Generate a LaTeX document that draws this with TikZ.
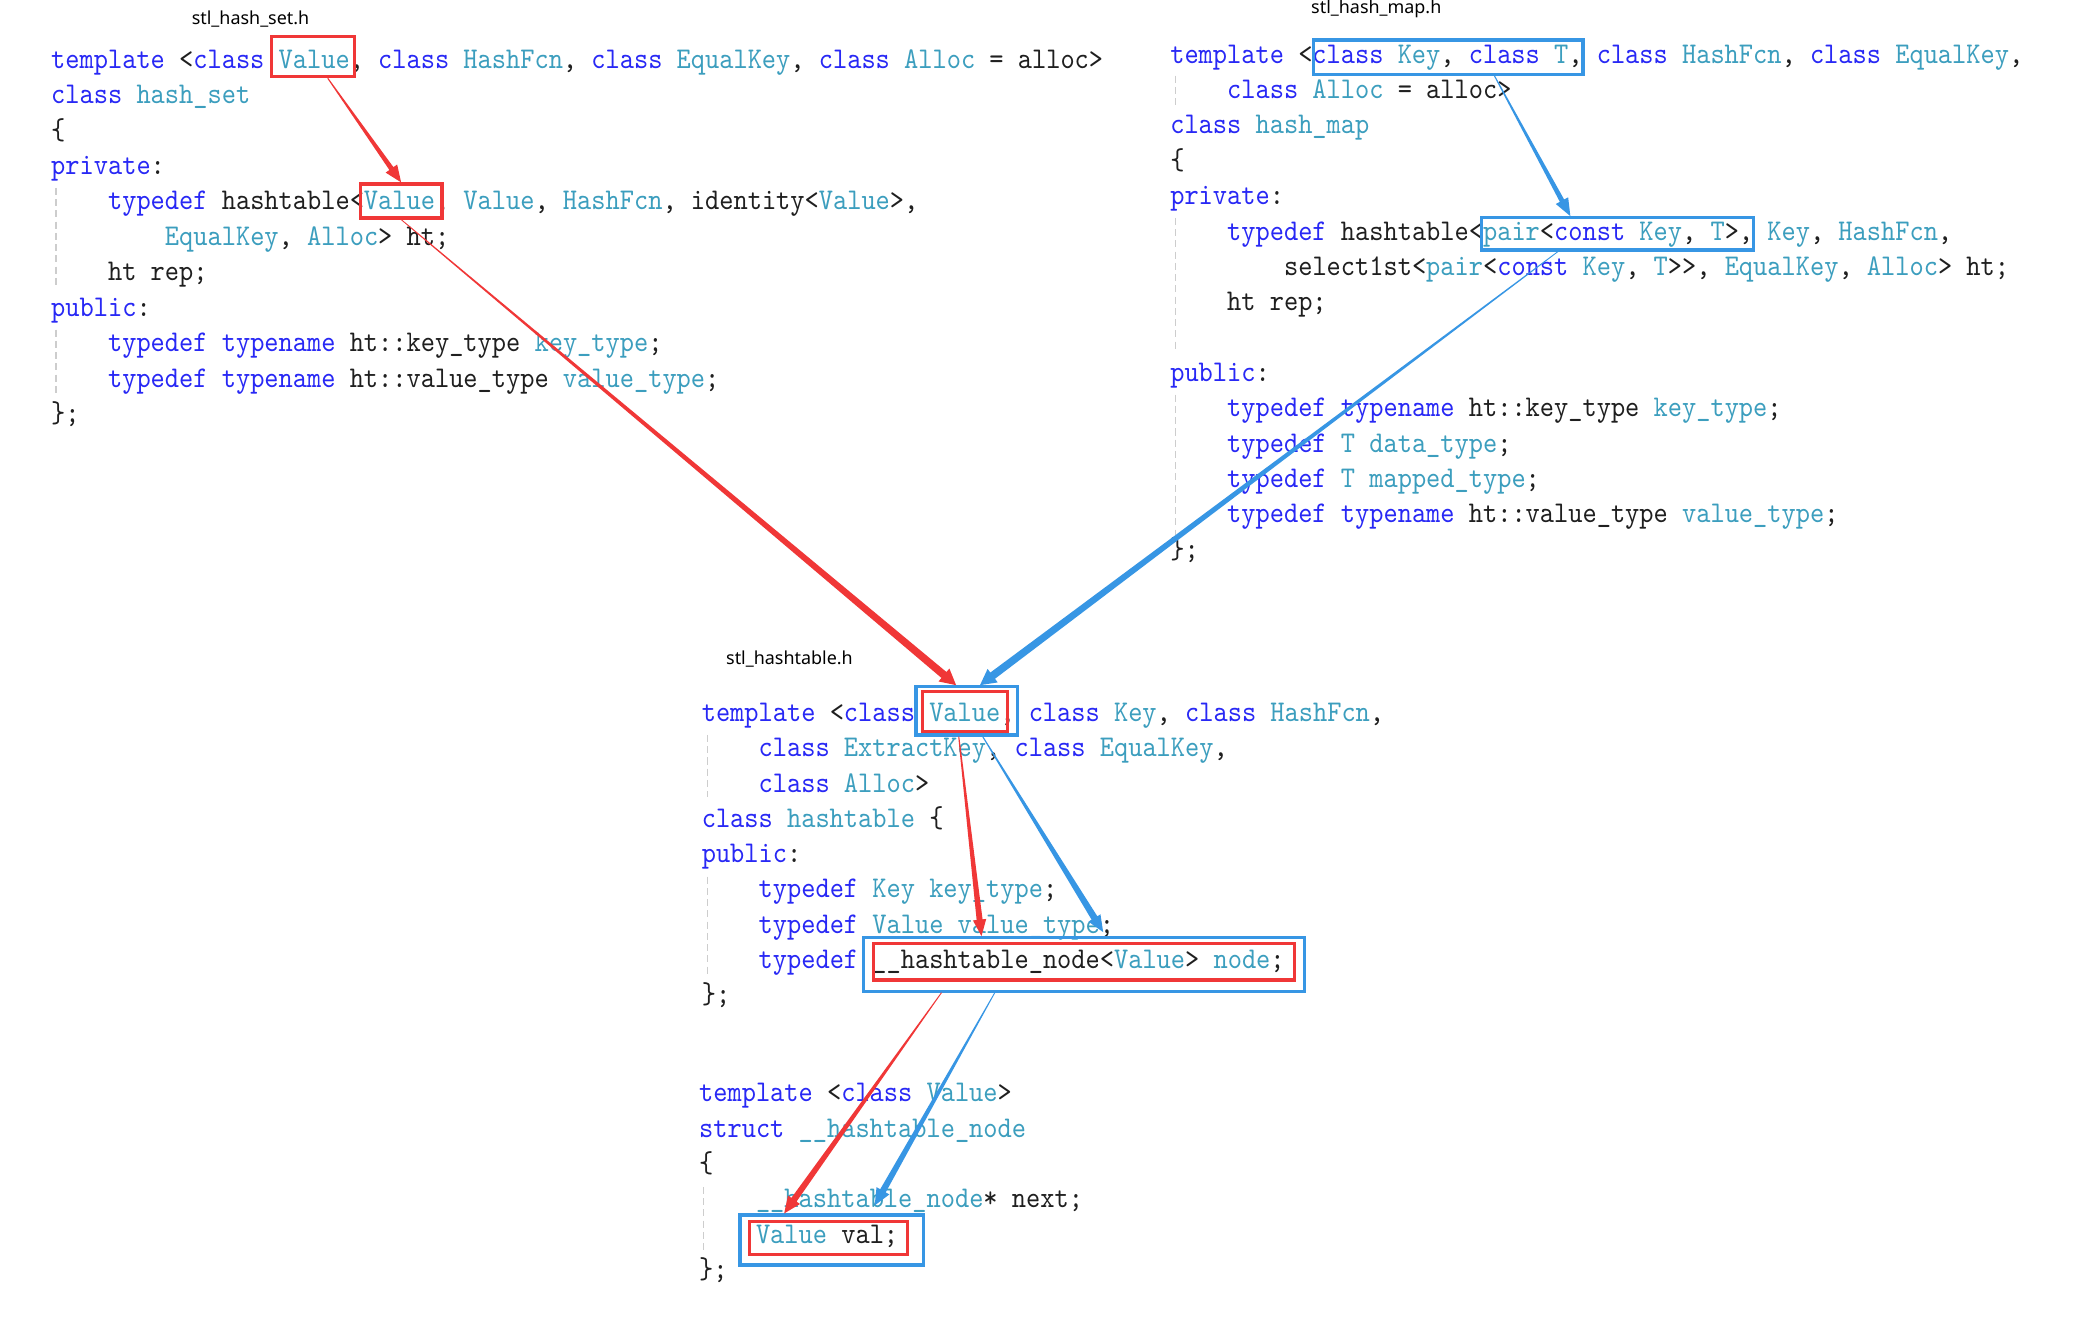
\documentclass[tikz,border=0pt]{standalone}
\usepackage{fontspec}
\newfontfamily\titlefont{Noto Sans}
\newfontfamily\codefont{lmmono10-regular.otf}[FakeStretch=0.9]
\usetikzlibrary{calc,fit}

\definecolor{kwblue}{RGB}{40,40,245}
\definecolor{tyteal}{RGB}{60,158,190}
\definecolor{mkred}{RGB}{240,55,55}
\definecolor{mkblue}{RGB}{55,150,228}
\definecolor{guidegray}{RGB}{205,205,205}

\newcommand{\kw}[1]{\textcolor{kwblue}{#1}}
\newcommand{\ty}[1]{\textcolor{tyteal}{#1}}

% tapered marker arrow: colour, start, tip, start half-width, shaft half-width, head half-width, head length
\newcommand{\taperarrow}[7]{%
  \path (#2) coordinate (ta-s) (#3) coordinate (ta-t);
  \path ($(ta-t)!#7!(ta-s)$) coordinate (ta-h);
  \fill[#1] ($(ta-s)!#4!90:(ta-t)$) -- ($(ta-h)!#5!-90:(ta-s)$) -- ($(ta-h)!#6!-90:(ta-s)$)
    -- (ta-t) -- ($(ta-h)!#6!90:(ta-s)$) -- ($(ta-h)!#5!90:(ta-s)$) -- ($(ta-s)!#4!-90:(ta-t)$) -- cycle;}

\begin{document}
\begin{tikzpicture}[
    x=0.01329cm, y=-0.01329cm,
    code/.style={anchor=base west, inner sep=0pt, text=black!88,
        font=\fontsize{8.56}{10}\selectfont\codefont\frenchspacing},
    fname/.style={inner sep=0pt, font=\fontsize{5.1}{6}\selectfont\titlefont},
    redbox/.style={draw=mkred, line width=0.9pt, inner sep=0pt},
    bluebox/.style={draw=mkblue, line width=0.9pt, inner sep=0pt},
    guide/.style={draw=guidegray, line width=0.45pt, dash pattern=on 2pt off 1.2pt},
]
\fill[white] (0,0) rectangle (1568,996);
\useasboundingbox (0,0) rectangle (1568,996);

% ---- stl_hash_set.h ------------------------------------------------
\node[fname] (fset) at (188.5,14) {stl\_hash\_set.h};
\node[code] (s0) at (38,51.4) {\kw{template} <\kw{class} \ty{Value}, \kw{class} \ty{HashFcn}, \kw{class} \ty{EqualKey}, \kw{class} \ty{Alloc} = alloc>};
\node[code] (s1) at (38,78.1) {\kw{class} \ty{hash\_set}};
\node[code] (s2) at (38,104.7) {\{};
\node[code] (s3) at (38,131.4) {\kw{private}:};
\node[code] (s4) at (80.8,158.0) {\kw{typedef} hashtable<\ty{Value}, \ty{Value}, \ty{HashFcn}, identity<\ty{Value}>,};
\node[code] (s5) at (123.6,184.7) {\ty{EqualKey}, \ty{Alloc}> ht;};
\node[code] (s6) at (80.8,211.3) {ht rep;};
\node[code] (s7) at (38,238.0) {\kw{public}:};
\node[code] (s8) at (80.8,264.6) {\kw{typedef} \kw{typename} ht::key\_type \ty{key\_type};};
\node[code] (s9) at (80.8,291.3) {\kw{typedef} \kw{typename} ht::value\_type \ty{value\_type};};
\node[code] (s10) at (38,317.9) {\};};
\draw[guide] (42,141.4) -- (42,215.7);
\draw[guide] (42,248) -- (42,296);

% ---- stl_hash_map.h ------------------------------------------------
\node[fname] (fmap) at (1035.5,7) {stl\_hash\_map.h};
\node[code] (m0) at (880,47.6) {\kw{template} <\kw{class} \ty{Key}, \kw{class} \ty{T}, \kw{class} \ty{HashFcn}, \kw{class} \ty{EqualKey},};
\node[code] (m1) at (922.8,74.2) {\kw{class} \ty{Alloc} = alloc>};
\node[code] (m2) at (880,100.8) {\kw{class} \ty{hash\_map}};
\node[code] (m3) at (880,127.4) {\{};
\node[code] (m4) at (880,154.0) {\kw{private}:};
\node[code] (m5) at (922.8,180.6) {\kw{typedef} hashtable<\ty{pair}<\kw{const} \ty{Key}, \ty{T}>, \ty{Key}, \ty{HashFcn},};
\node[code] (m6) at (965.6,207.2) {select1st<\ty{pair}<\kw{const} \ty{Key}, \ty{T}>{}>, \ty{EqualKey}, \ty{Alloc}> ht;};
\node[code] (m7) at (922.8,233.8) {ht rep;};
\node[code] (m9) at (880,287.0) {\kw{public}:};
\node[code] (m10) at (922.8,313.6) {\kw{typedef} \kw{typename} ht::key\_type \ty{key\_type};};
\node[code] (m11) at (922.8,340.2) {\kw{typedef} \ty{T} \ty{data\_type};};
\node[code] (m12) at (922.8,366.8) {\kw{typedef} \ty{T} \ty{mapped\_type};};
\node[code] (m13) at (922.8,393.4) {\kw{typedef} \kw{typename} ht::value\_type \ty{value\_type};};
\node[code] (m14) at (880,420.0) {\};};
\draw[guide] (884.5,56.9) -- (884.5,80.5);
\draw[guide] (884.5,164) -- (884.5,265);
\draw[guide] (884.5,297) -- (884.5,402.6);

% ---- stl_hashtable.h -----------------------------------------------
\node[fname] (fht) at (594,496) {stl\_hashtable.h};
\node[code] (h0) at (527.5,543) {\kw{template} <\kw{class} \ty{Value}, \kw{class} \ty{Key}, \kw{class} \ty{HashFcn},};
\node[code] (h1) at (570.3,569.5) {\kw{class} \ty{ExtractKey}, \kw{class} \ty{EqualKey},};
\node[code] (h2) at (570.3,596) {\kw{class} \ty{Alloc}>};
\node[code] (h3) at (527.5,622.5) {\kw{class} \ty{hashtable} \{};
\node[code] (h4) at (527.5,649) {\kw{public}:};
\node[code] (h5) at (570.3,675.5) {\kw{typedef} \ty{Key} \ty{key\_type};};
\node[code] (h6) at (570.3,702) {\kw{typedef} \ty{Value} \ty{value\_type};};
\node[code] (h7) at (570.3,728.5) {\kw{typedef} \_\_hashtable\_node<\ty{Value}> \ty{node};};
\node[code] (h8) at (527.5,755) {\};};
\draw[guide] (532.3,553) -- (532.3,600);
\draw[guide] (532.3,659.6) -- (532.3,735);

\node[code] (n0) at (525.5,829) {\kw{template} <\kw{class} \ty{Value}>};
\node[code] (n1) at (525.5,855.6) {\kw{struct} \ty{\_\_hashtable\_node}};
\node[code] (n2) at (525.5,882.2) {\{};
\node[code] (n3) at (568.3,908.8) {\ty{\_\_hashtable\_node}* next;};
\node[code] (n4) at (568.3,935.4) {\ty{Value} val;};
\node[code] (n5) at (525.5,962) {\};};
\draw[guide] (529.2,893) -- (529.2,942);

% ---- marker boxes --------------------------------------------------
\node[redbox, fit={(204,27.6) (267,57.7)}] (setV1) {};
\node[redbox, fit={(271,138.4) (332.6,164)}] (setV2) {};
\node[bluebox, fit={(988,30.1) (1191,55.9)}] (mapKT) {};
\node[bluebox, fit={(1114.4,163.8) (1319,188.1)}] (mapPair) {};
\node[bluebox, fit={(689.2,516.7) (765.5,553)}] (htVb) {};
\node[redbox, fit={(694.3,520.4) (758,550.5)}] (htVr) {};
\node[bluebox, fit={(649.4,705.5) (981.2,745.7)}] (nodeB) {};
\node[redbox, fit={(657.3,709.8) (973.9,737.4)}] (nodeR) {};
\node[bluebox, fit={(556.8,914.2) (694.8,951.8)}] (valB) {};
\node[redbox, fit={(563.8,919.2) (682.7,943.6)}] (valR) {};

% ---- arrows --------------------------------------------------------
\taperarrow{mkred}{$(setV1.south west)!0.67!(setV1.south east)$}{setV2.north}{0.15pt}{0.7pt}{2.0pt}{4.8pt}
\taperarrow{mkred}{setV2.south}{$(htVb.north)+(-8,0)$}{0.12pt}{1.1pt}{2.4pt}{4.5pt}
\taperarrow{mkblue}{$(mapKT.south west)!0.67!(mapKT.south east)$}{$(mapPair.north west)!0.33!(mapPair.north east)$}{0.15pt}{0.7pt}{2.0pt}{5pt}
\taperarrow{mkblue}{$(mapPair.south west)!0.285!(mapPair.south east)$}{$(htVb.north)+(10,0)$}{0.12pt}{1.1pt}{2.4pt}{4.5pt}
\taperarrow{mkred}{$(htVb.south)+(-6,0)$}{$(nodeB.north west)!0.27!(nodeB.north east)$}{0.15pt}{0.85pt}{1.9pt}{4.7pt}
\taperarrow{mkblue}{$(htVb.south)+(12,0)$}{$(nodeB.north west)!0.544!(nodeB.north east)+(0,-3)$}{0.15pt}{0.95pt}{2.0pt}{4.7pt}
\taperarrow{mkred}{$(nodeB.south west)!0.18!(nodeB.south east)$}{$(valB.north west)!0.245!(valB.north east)$}{0.12pt}{0.9pt}{2.1pt}{4.8pt}
\taperarrow{mkblue}{$(nodeB.south west)!0.30!(nodeB.south east)$}{$(valB.north west)!0.73!(valB.north east)+(0,-6)$}{0.12pt}{0.9pt}{2.1pt}{4.8pt}

\end{tikzpicture}
\end{document}
